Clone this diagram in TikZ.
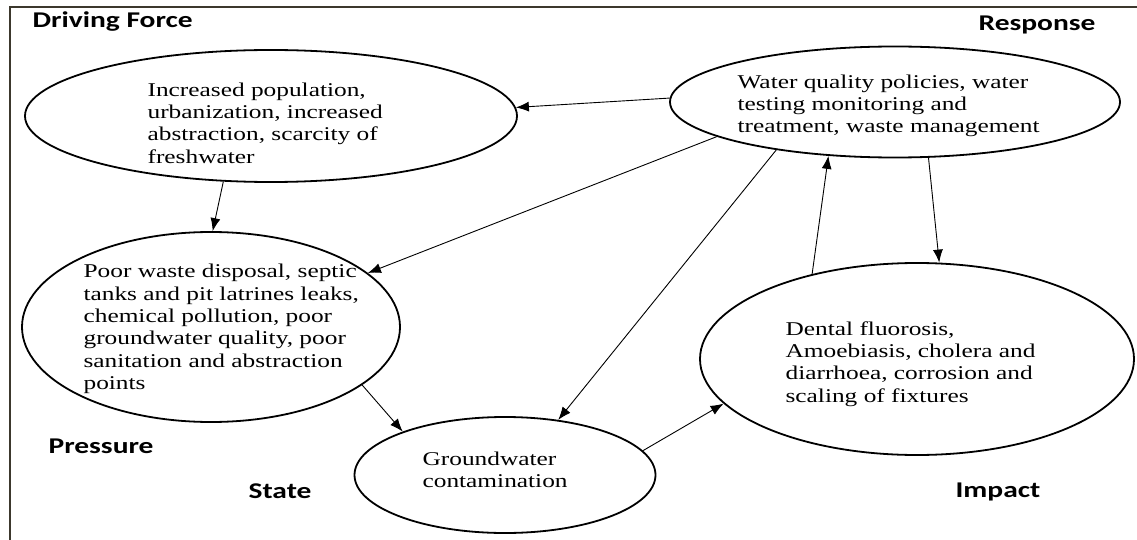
\documentclass[tikz,border=0pt]{standalone}
\usepackage{fontspec}
\setmainfont{Liberation Serif}
\newfontfamily\lblfont{Carlito}
\usetikzlibrary{arrows.meta,shapes.geometric}

\begin{document}
\begin{tikzpicture}[x=1pt,y=-1pt,->,>={Latex[length=13pt,width=10pt]},line width=0.9pt,
    ell/.style={ellipse,draw,line width=1.8pt,inner sep=0pt},
    txt/.style={anchor=west,align=left,inner sep=0pt,xscale=1.3,font=\fontsize{19.5}{22.3}\selectfont},
    lbl/.style={anchor=base west,inner sep=0pt,xscale=1.31,font=\lblfont\bfseries\fontsize{22.5}{26}\selectfont}]
    \useasboundingbox (0,0) rectangle (1137,540);
    \draw[-,line width=2pt,black!60!olive!60!black] (9.5,540) -- (9.5,7) -- (1137,7);
    % DPSIR frame
    \node[ell,minimum width=492pt,minimum height=132pt] (drv) at (271,116) {};
    \node[ell,minimum width=450pt,minimum height=111pt] (rsp) at (895,102) {};
    \node[ell,minimum width=378pt,minimum height=190pt] (prs) at (211,327) {};
    \node[ell,minimum width=301pt,minimum height=116pt] (ste) at (505,475) {};
    \node[ell,minimum width=434pt,minimum height=192pt] (imp) at (917,359) {};
    \node[txt] (drvtxt) at (147,123) {Increased population,\\ urbanization, increased\\ abstraction, scarcity of\\ freshwater};
    \node[txt] (rsptxt) at (737,106) {Water quality policies, water\\ testing monitoring and\\ treatment, waste management};
    \node[txt] (prstxt) at (83,329) {Poor waste disposal, septic\\ tanks and pit latrines leaks,\\ chemical pollution, poor\\ groundwater quality, poor\\ sanitation and abstraction\\ points};
    \node[txt] (stetxt) at (422,470) {Groundwater\\ contamination};
    \node[txt] (imptxt) at (785,364) {Dental fluorosis,\\ Amoebiasis, cholera and\\ diarrhoea, corrosion and\\ scaling of fixtures};
    \node[lbl] (drvlbl) at (32,28) {Driving Force};
    \node[lbl] (rsplbl) at (978,31) {Response};
    \node[lbl] (prslbl) at (48,453) {Pressure};
    \node[lbl] (stelbl) at (248,498) {State};
    \node[lbl] (implbl) at (955,497) {Impact};
    \path
    (rsp.179) edge (drv.2)
    (drv.234) edge (prs.89)
    (rsp.191) edge (prs.19)
    (rsp.202) edge (ste.46)
    (imp.141) edge (rsp.219)
    (rsp.301) edge (imp.77)
    (prs.339) edge (ste.157)
    (ste.10) edge (imp.193)
;
\end{tikzpicture}
\end{document}
